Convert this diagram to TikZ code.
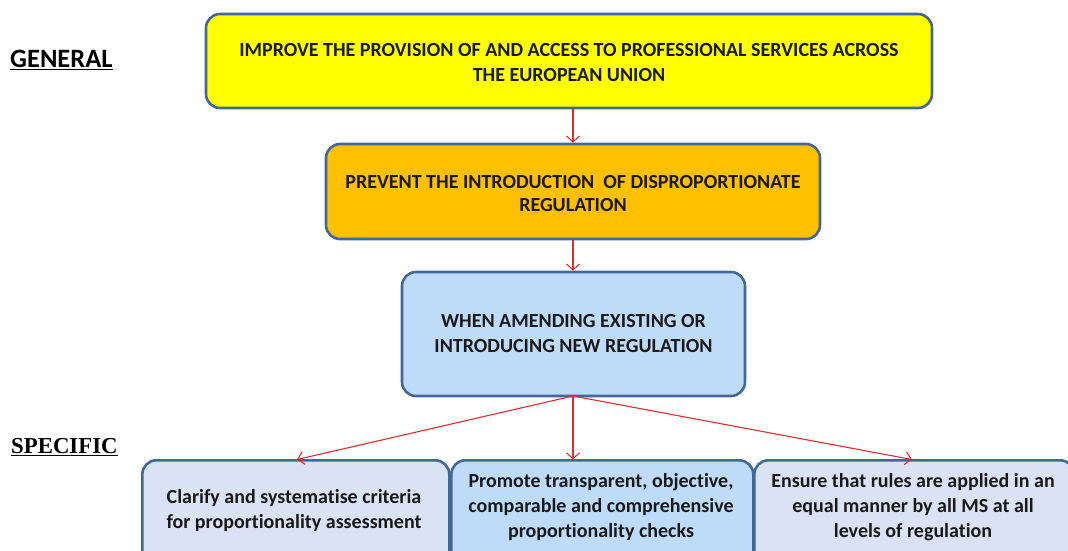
\documentclass[tikz,border=0pt]{standalone}
\usepackage{fontspec}
\setmainfont[Ligatures={NoCommon}]{Carlito}
\newfontfamily\serifb{Liberation Serif}
\usetikzlibrary{arrows.meta}
\definecolor{bord}{RGB}{66,104,152}
\definecolor{yel}{RGB}{255,255,0}
\definecolor{org}{RGB}{255,192,0}
\definecolor{lblue}{RGB}{190,220,250}
\definecolor{gblue}{RGB}{218,227,243}
\definecolor{arr}{RGB}{225,45,45}
\tikzset{
  box/.style={draw=bord, line width=2.6pt, rounded corners=14pt, inner sep=0pt},
  txt/.style={font=\fontsize{20}{25}\selectfont\bfseries, align=center, text=black!90},
  conn/.style={draw=arr, line width=1.1pt, -{Straight Barb[length=6pt,width=13pt,line width=1.1pt]}},
  lab/.style={font=\fontsize{26.5}{25}\selectfont\bfseries, anchor=west, inner sep=0pt}
}
\begin{document}
\begin{tikzpicture}[x=1pt,y=-1pt]
\useasboundingbox (0,0) rectangle (1068,550);
\begin{scope}
\clip (0,0) rectangle (1068,550);
\node[box, fill=yel, minimum width=726pt, minimum height=94pt] (g) at (569,61) {};
\node[box, fill=org, minimum width=494pt, minimum height=95pt] (p) at (573,191.5) {};
\node[box, fill=lblue, minimum width=343pt, minimum height=124pt] (w) at (573.5,334) {};
\node[box, fill=gblue, minimum width=307pt, minimum height=150pt, anchor=north west] (s1) at (141,459) {};
\node[box, fill=lblue, minimum width=302pt, minimum height=150pt, anchor=north west] (s2) at (450,459) {};
\node[box, fill=gblue, minimum width=320pt, minimum height=150pt, anchor=north west] (s3) at (753,459) {};
\end{scope}
\node[txt] (tg) at (569,63)
  {IMPROVE THE PROVISION OF AND ACCESS TO PROFESSIONAL SERVICES ACROSS\\THE EUROPEAN UNION};
\node[txt, font=\fontsize{20}{22.5}\selectfont\bfseries] (tp) at (573,193.5)
  {PREVENT THE INTRODUCTION\ \ OF DISPROPORTIONATE\\REGULATION};
\node[txt] (tw) at (573.5,334)
  {WHEN AMENDING EXISTING OR\\INTRODUCING NEW REGULATION};
\node[txt] (t1) at (294,510.5)
  {Clarify and systematise criteria\\for proportionality assessment};
\node[txt] (t2) at (601,507.5)
  {Promote transparent, objective,\\comparable and comprehensive\\proportionality checks};
\node[txt] (t3) at (913,507.5)
  {Ensure that rules are applied in an\\equal manner by all MS at all\\levels of regulation};
\coordinate (wb) at (573,396);
\draw[conn] (g.south -| p.north) -- (p.north);
\draw[conn] (p.south) -- (w.north -| p.south);
\draw[conn] (wb) -- (297,459.5) coordinate (e1);
\draw[conn] (wb) -- (573,459.5) coordinate (e2);
\draw[conn] (wb) -- (912,459.5) coordinate (e3);
\node[lab] (gen) at (10,60) {\underline{GENERAL}};
\node[lab, font=\serifb\fontsize{22.8}{25}\selectfont\bfseries] (spec) at (11,447) {\underline{SPECIFIC}};
\end{tikzpicture}
\end{document}
